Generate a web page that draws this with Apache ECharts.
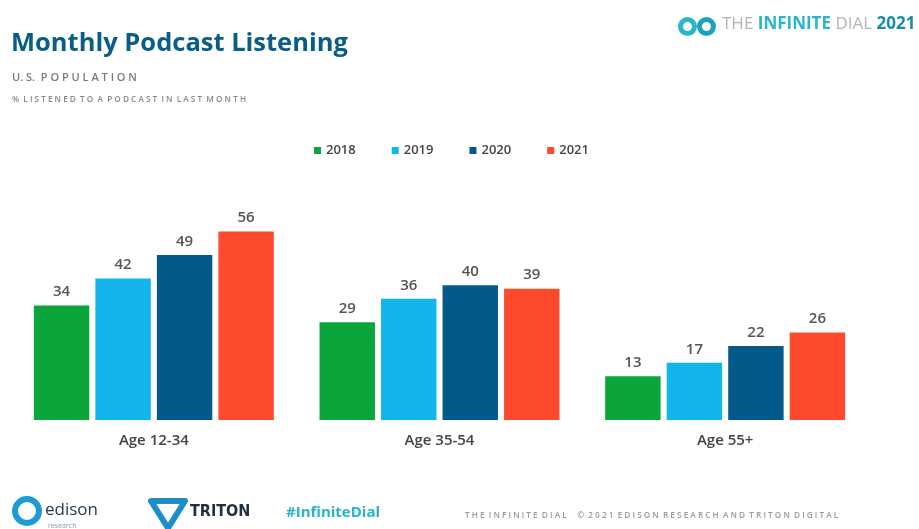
<!DOCTYPE html>
<html>
<head>
<meta charset="utf-8">
<title>Monthly Podcast Listening</title>
<script src="https://cdn.jsdelivr.net/npm/echarts@6/dist/echarts.min.js"></script>
<style>
  html, body { margin: 0; padding: 0; background: #ffffff; }
  #chart { width: 919px; height: 529px; }
</style>
</head>
<body>
<div id="chart"></div>
<script>
// Age groups and yearly share (%) of people who listened to a podcast in the last month
const categories = ['Age 12-34', 'Age 35-54', 'Age 55+'];
const years = ['2018', '2019', '2020', '2021'];
const values2018 = [34, 29, 13];
const values2019 = [42, 36, 17];
const values2020 = [49, 40, 22];
const values2021 = [56, 39, 26];
const yearColors = ['#0aa63c', '#12b4ec', '#035a8a', '#fd4a2c'];

const seriesValues = [values2018, values2019, values2020, values2021];
const font = '"Open Sans", "Noto Sans", sans-serif';

const chart = echarts.init(document.getElementById('chart'));

chart.setOption({
  backgroundColor: '#ffffff',
  animation: false,
  textStyle: { fontFamily: font },
  legend: {
    top: 139,
    left: 309,
    itemWidth: 7,
    itemHeight: 7,
    itemGap: 36,
    icon: 'rect',
    textStyle: { fontFamily: font, fontSize: 13, fontWeight: 600, color: '#444' },
    data: years
  },
  grid: { left: 11, right: 51, top: 218, bottom: 109, containLabel: false },
  xAxis: {
    type: 'category',
    data: categories,
    axisLine: { show: false },
    axisTick: { show: false },
    axisLabel: { margin: 13, fontFamily: font, fontSize: 15, fontWeight: 600, color: '#444' }
  },
  yAxis: {
    type: 'value',
    min: 0,
    max: 60,
    show: false,
    splitLine: { show: false }
  },
  series: years.map((y, i) => ({
    name: y,
    type: 'bar',
    data: seriesValues[i],
    barGap: '11%',
    barCategoryGap: '16%',
    itemStyle: { color: yearColors[i] },
    label: {
      show: true,
      position: 'top',
      distance: 6,
      fontFamily: font,
      fontSize: 15,
      fontWeight: 600,
      color: '#555'
    }
  })),
  graphic: [
    // heading block
    {
      type: 'text', left: 11, top: 31,
      style: { text: 'Monthly Podcast Listening', font: 'bold 25.5px ' + font, fill: '#0a5d86' }
    },
    {
      type: 'text', left: 12, top: 72,
      style: { text: 'U. S.  P O P U L A T I O N', font: '600 11px ' + font, fill: '#7a7a7a' }
    },
    {
      type: 'text', left: 12, top: 96,
      style: { text: '%  L I S T E N E D  T O  A  P O D C A S T  I N  L A S T  M O N T H', font: '600 8.2px ' + font, fill: '#888' }
    },
    // top-right brand mark
    {
      type: 'group', left: 678, top: 17,
      children: [
        { type: 'circle', shape: { cx: 10, cy: 10, r: 7 }, style: { fill: 'none', stroke: '#29b6c8', lineWidth: 5 } },
        { type: 'circle', shape: { cx: 29, cy: 10, r: 7 }, style: { fill: 'none', stroke: '#1aa3c0', lineWidth: 5 } }
      ]
    },
    {
      type: 'text', left: 722, top: 16,
      style: {
        text: '{a|THE }{b|INFINITE}{a| DIAL }{c|2021}',
        rich: {
          a: { font: '17px ' + font, fill: '#b5b5b5' },
          b: { font: 'bold 17px ' + font, fill: '#2ab5cc' },
          c: { font: 'bold 17px ' + font, fill: '#1a8ca8' }
        }
      }
    },
    // footer logos
    {
      type: 'group', left: 12, top: 496,
      children: [
        { type: 'circle', shape: { cx: 15, cy: 17, r: 12 }, style: { fill: 'none', stroke: '#1f9ad6', lineWidth: 6 } },
        { type: 'text', x: 33, y: 8, style: { text: 'edison', font: '17px ' + font, fill: '#2a3a4a' } },
        { type: 'text', x: 36, y: 28, style: { text: 'research', font: '7px ' + font, fill: '#8a9aa5' } }
      ]
    },
    {
      type: 'group', left: 148, top: 498,
      children: [
        { type: 'polygon', shape: { points: [[0, 4], [34, 4], [17, 31]] }, style: { fill: 'none', stroke: '#1d8fc8', lineWidth: 6, lineJoin: 'round' } },
        { type: 'text', x: 39, y: 7, style: { text: 'TRITON', font: 'bold 16px "Liberation Sans Narrow", "DejaVu Sans Condensed", sans-serif', fill: '#1f2f3f' } }
      ]
    },
    {
      type: 'text', left: 286, top: 505,
      style: { text: '#InfiniteDial', font: 'bold 15px ' + font, fill: '#28b3cc' }
    },
    {
      type: 'text', left: 465, top: 512,
      style: { text: 'T H E  I N F I N I T E  D I A L     ©  2 0 2 1  E D I S O N  R E S E A R C H  A N D  T R I T O N  D I G I T A L', font: '600 8.2px ' + font, fill: '#999' }
    }
  ]
});
</script>
</body>
</html>
